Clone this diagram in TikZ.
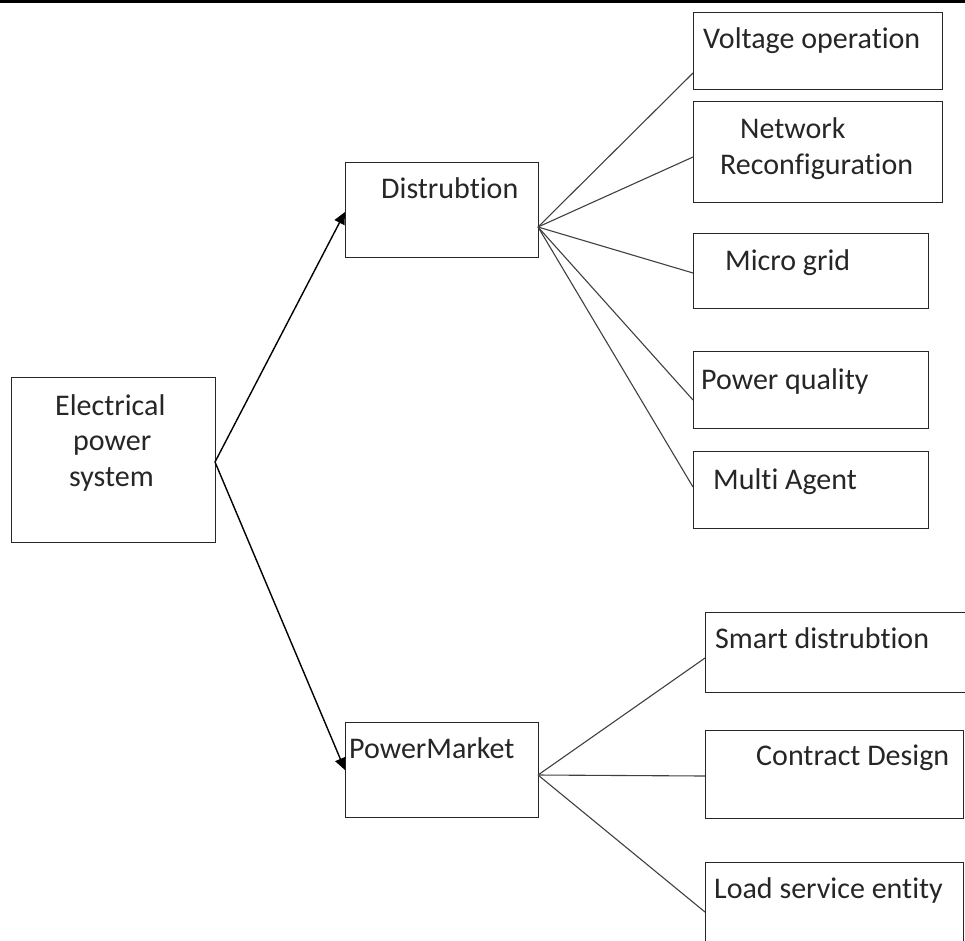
\documentclass[tikz,border=0pt]{standalone}
\usepackage{fontspec}
\setmainfont{Carlito}[Ligatures=NoCommon]
\usetikzlibrary{arrows.meta,calc}
\begin{document}
\begin{tikzpicture}[x=1pt,y=-1pt,
  box/.style={draw=black!85,line width=1.3pt,rectangle,inner sep=0pt,anchor=north west},
  lbl/.style={anchor=base west,inner sep=0pt,font=\fontsize{30}{36}\selectfont,text=black!85},
  arr/.style={line width=1.4pt,-{Triangle[width=11pt,length=12pt]}},
  thin/.style={draw=black!75,line width=1.1pt}]
\clip (0,0) rectangle (965,940);
\fill[black] (0,0) rectangle (965,3);
% boxes
\node[box,minimum width=204pt,minimum height=165pt] (eps) at (11,377) {};
\node[box,minimum width=193pt,minimum height=95pt] (dis) at (345,162) {};
\node[box,minimum width=193pt,minimum height=95pt] (pm) at (345,722) {};
\node[box,minimum width=249pt,minimum height=77pt] (vo) at (693,12) {};
\node[box,minimum width=249pt,minimum height=101pt] (nr) at (693,101) {};
\node[box,minimum width=235pt,minimum height=75pt] (mg) at (693,233) {};
\node[box,minimum width=235pt,minimum height=77pt] (pq) at (693,351) {};
\node[box,minimum width=235pt,minimum height=77pt] (ma) at (693,451) {};
\node[box,minimum width=275pt,minimum height=80pt] (sd) at (705,612) {};
\node[box,minimum width=258pt,minimum height=88pt] (cd) at (705,730) {};
\node[box,minimum width=258pt,minimum height=100pt] (ls) at (705,862) {};
% labels
\node[lbl] (t1) at (55,415) {Electrical};
\node[lbl] (t2) at (73,450) {power};
\node[lbl] (t3) at (69,486) {system};
\node[lbl] (t4) at (381,198) {Distrubtion};
\node[lbl] (t5) at (349,758) {PowerMarket};
\node[lbl] (t6) at (703,48) {Voltage operation};
\node[lbl] (t7) at (740,138) {Network};
\node[lbl] (t8) at (720,174) {Reconfiguration};
\node[lbl] (t9) at (725,270) {Micro grid};
\node[lbl] (t10) at (701,389) {Power quality};
\node[lbl] (t11) at (713,489) {Multi Agent};
\node[lbl] (t12) at (715,648) {Smart distrubtion};
\node[lbl] (t13) at (756,765) {Contract Design};
\node[lbl] (t14) at (714,898) {Load service entity};
% connection points
\coordinate (ee) at (215,462);
\coordinate (de) at (538,227);
\coordinate (pe) at (538,775);
\draw[arr] (ee) -- ($(dis.north west)+(0,50)$);
\draw[arr] (ee) -- ($(pm.north west)+(0,48)$);
\draw[thin] (de) -- ($(vo.north west)+(0,61)$);
\draw[thin] (de) -- ($(nr.north west)+(0,56)$);
\draw[thin] (de) -- ($(mg.north west)+(0,40)$);
\draw[thin] (de) -- ($(pq.north west)+(0,49)$);
\draw[thin] (de) -- ($(ma.north west)+(0,36)$);
\draw[thin] (pe) -- ($(sd.north west)+(0,46)$);
\draw[thin] (pe) -- ($(cd.north west)+(0,46)$);
\draw[thin] (pe) -- ($(ls.north west)+(0,50)$);
\end{tikzpicture}
\end{document}
